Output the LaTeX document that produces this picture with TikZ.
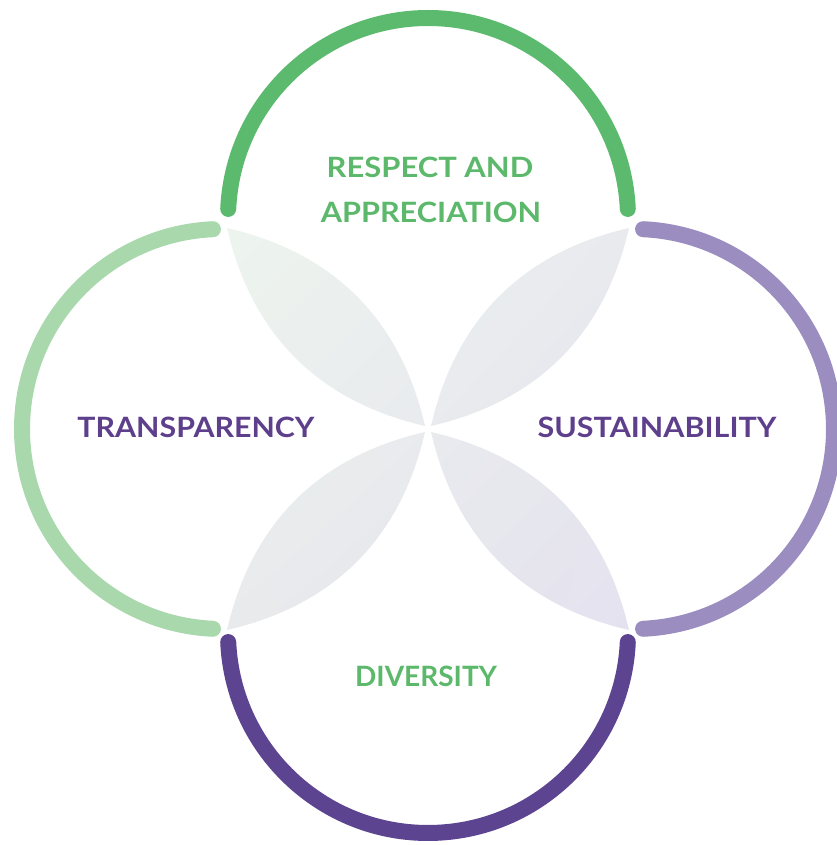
\documentclass[tikz,border=0pt]{standalone}
\usepackage{fontspec}
\usetikzlibrary{shadings}
\setmainfont{Lato}
\definecolor{topgreen}{HTML}{5CBA6E}
\definecolor{leftgreen}{HTML}{A8D8AC}
\definecolor{rightlav}{HTML}{9B8DC0}
\definecolor{botpurple}{HTML}{5C4490}
\definecolor{txtgreen}{HTML}{5CB86A}
\definecolor{txtpurple}{HTML}{5E3F8C}
\definecolor{leafA}{HTML}{EDF4EE}
\definecolor{leafB}{HTML}{E9EAEE}
\definecolor{leafC}{HTML}{E9EAEC}
\definecolor{leafD}{HTML}{E4E2EF}
\tikzset{
  ring/.style={line width=16pt, line cap=round},
  lbl/.style={font=\bfseries\fontsize{28}{34}\selectfont, anchor=base, inner sep=0pt},
}
\newcommand{\wide}[2]{\scalebox{#1}[1]{#2}}
\begin{document}
\begin{tikzpicture}[x=1pt,y=1pt]
\useasboundingbox (0,0) rectangle (836,845);
% centre
\coordinate (C) at (428,416);
% leaves
\coordinate (TLo) at (227,617); \coordinate (TLi) at (425,419);
\coordinate (TRo) at (629,617); \coordinate (TRi) at (431,419);
\coordinate (BLo) at (227,215); \coordinate (BLi) at (425,413);
\coordinate (BRo) at (629,215); \coordinate (BRi) at (431,413);
\shade[upper left=leafA, upper right=leafB, lower left=leafC, lower right=leafD]
  (TLo) to[bend left=32] (TLi) to[bend left=32] (TLo) -- cycle
  (TRo) to[bend left=32] (TRi) to[bend left=32] (TRo) -- cycle
  (BLo) to[bend left=32] (BLi) to[bend left=32] (BLo) -- cycle
  (BRo) to[bend left=32] (BRi) to[bend left=32] (BRo) -- cycle;
% arcs
\coordinate (ct) at (428,627);
\coordinate (cr) at (634,416);
\coordinate (cb) at (428,212);
\coordinate (cl) at (222,416);
\draw[ring, topgreen] (ct) ++(2.6:200) arc[start angle=2.6, end angle=177.4, radius=200];
\draw[ring, rightlav] (cr) ++(-87.4:200) arc[start angle=-87.4, end angle=87.4, radius=200];
\draw[ring, botpurple] (cb) ++(182.6:200) arc[start angle=182.6, end angle=357.4, radius=200];
\draw[ring, leftgreen] (cl) ++(92.6:200) arc[start angle=92.6, end angle=267.4, radius=200];
% labels
\node[lbl, txtgreen] (respect) at (430,667) {\wide{1.105}{RESPECT AND}};
\node[lbl, txtgreen] (apprec) at (431,622) {\wide{1.095}{APPRECIATION}};
\node[lbl, txtpurple] (transp) at (196,407) {\wide{1.083}{TRANSPARENCY}};
\node[lbl, txtpurple] (sustain) at (657,407) {\wide{1.087}{SUSTAINABILITY}};
\node[lbl, txtgreen] (divers) at (426,158) {DIVERSITY};
\end{tikzpicture}
\end{document}
